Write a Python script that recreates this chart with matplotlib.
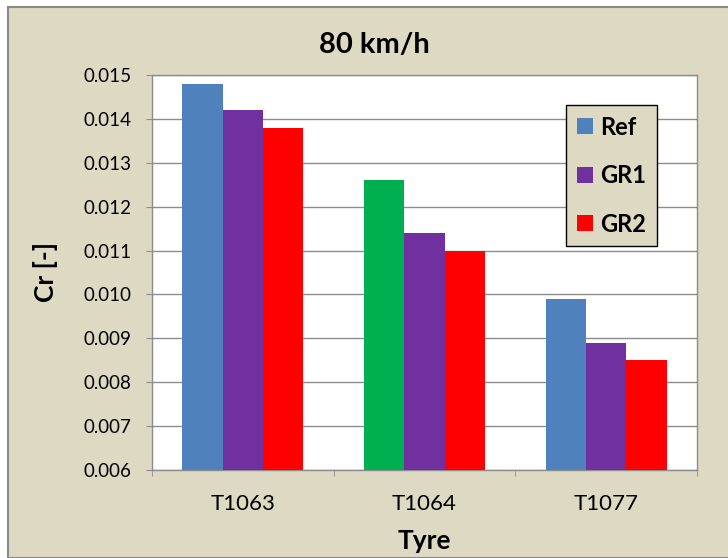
import matplotlib
matplotlib.use("Agg")
import matplotlib.pyplot as plt
from matplotlib.patches import Rectangle, Patch
import numpy as np

plt.rcParams['font.family'] = ['Lato', 'DejaVu Sans']

categories = ["T1063", "T1064", "T1077"]
series_names = ["Ref", "GR1", "GR2"]
ref = [0.0148, 0.0126, 0.0099]
gr1 = [0.0142, 0.0114, 0.0089]
gr2 = [0.0138, 0.0110, 0.0085]
ref_colors = ["#4F81BD", "#00B050", "#4F81BD"]
gr1_color = "#7030A0"
gr2_color = "#FF0000"
title = "80 km/h"
xlabel = "Tyre"
ylabel = "Cr [-]"
yticks = [0.006, 0.007, 0.008, 0.009, 0.010, 0.011, 0.012, 0.013, 0.014, 0.015]

bg = "#DDD9C3"
W, H = 728, 558
fig = plt.figure(figsize=(W/100, H/100), dpi=100, facecolor="white")
fig.patches.append(Rectangle((8/W, 0), 1, 1 - 7/H, transform=fig.transFigure,
                             facecolor=bg, edgecolor="#8a8a8a", linewidth=1.5, zorder=-10))

ax = fig.add_axes([152/W, 1 - 470/H, (697-152)/W, (470-75)/H])
ax.set_zorder(5)
ax.set_facecolor("white")
x = np.arange(len(categories))
bw = 0.222
ax.bar(x - bw, ref, bw, color=ref_colors, zorder=3)
ax.bar(x, gr1, bw, color=gr1_color, zorder=3)
ax.bar(x + bw, gr2, bw, color=gr2_color, zorder=3)

ax.set_ylim(0.006, 0.015)
ax.set_xlim(-0.5, 2.5)
ax.set_yticks(yticks)
ax.set_yticklabels([f"{v:.3f}" for v in yticks], fontsize=13.5)
ax.yaxis.grid(True, color="#8c8c8c", linewidth=1, zorder=0)
ax.set_axisbelow(True)
ax.tick_params(axis='y', length=4.5, color="#8c8c8c", pad=10.5)

ax.set_xticks(x)
ax.set_xticklabels(categories, fontsize=16)
ax.set_xticks([-0.5, 0.5, 1.5, 2.5], minor=True)
ax.tick_params(axis='x', which='major', length=0, pad=17)
ax.tick_params(axis='x', which='minor', length=4.5, color="#8c8c8c")

for s in ax.spines.values():
    s.set_color("#8c8c8c")
    s.set_linewidth(1)

fig.text(374/W, 1 - 45/H, title, ha='center', va='center', fontsize=21, fontweight='bold')
fig.text(424/W, 1 - 541/H, xlabel, ha='center', va='center', fontsize=19, fontweight='bold')
fig.text(45/W, 1 - 272/H, ylabel, ha='center', va='center', fontsize=19, fontweight='bold', rotation=90)

handles = [Patch(facecolor=c) for c in ["#4F81BD", gr1_color, gr2_color]]
leg = fig.legend(handles, series_names, loc='upper left',
                 bbox_to_anchor=(566/W, 1 - 105/H), bbox_transform=fig.transFigure,
                 borderaxespad=0, fancybox=False, framealpha=1, facecolor=bg,
                 edgecolor="black", prop={'size': 17, 'weight': 'bold'},
                 handlelength=0.68, handleheight=0.68, labelspacing=1.08,
                 handletextpad=0.32, borderpad=0.45)
leg.set_zorder(10)
leg.get_frame().set_linewidth(1)

fig.savefig("out.png", dpi=100, facecolor="white")
